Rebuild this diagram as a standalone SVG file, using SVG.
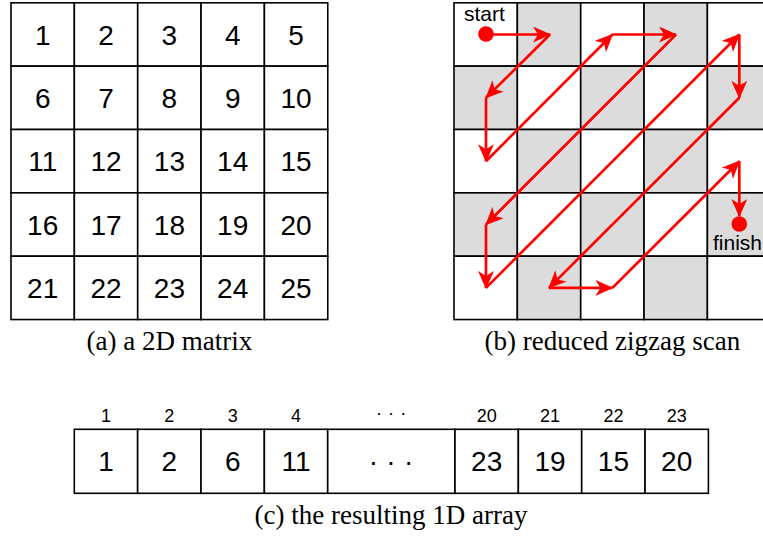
<svg xmlns="http://www.w3.org/2000/svg" width="763" height="536" viewBox="0 0 763 536">
<defs>
<style>
.cell{fill:#fff;stroke:#000;stroke-width:1.6}
.g{fill:#dcdcdc;stroke:#000;stroke-width:1.6}
.num{font-family:"Liberation Sans",Arial,sans-serif;font-size:28px;fill:#000;text-anchor:middle}
.idx{font-family:"Liberation Sans",Arial,sans-serif;font-size:18px;fill:#000;text-anchor:middle}
.lbl{font-family:"Liberation Sans",Arial,sans-serif;font-size:21px;fill:#000}
.cap{font-family:"Liberation Serif","Times New Roman",serif;font-size:27px;fill:#000;text-anchor:middle}
.arr{stroke:#ff0000;stroke-width:2.7;fill:none;marker-end:url(#ah)}
</style>
<marker id="ah" viewBox="0 0 18 16" refX="17" refY="8" markerWidth="18" markerHeight="16" markerUnits="userSpaceOnUse" orient="auto">
<path d="M0,0 L18,8 L0,16 L5,8 Z" fill="#ff0000"/>
</marker>
</defs>
<rect width="763" height="536" fill="#fff"/>

<g id="matrix">
<rect class="cell" x="11" y="2.8" width="63.35" height="63.35"/>
<rect class="cell" x="74.35" y="2.8" width="63.35" height="63.35"/>
<rect class="cell" x="137.7" y="2.8" width="63.35" height="63.35"/>
<rect class="cell" x="201.05" y="2.8" width="63.35" height="63.35"/>
<rect class="cell" x="264.4" y="2.8" width="63.35" height="63.35"/>
<rect class="cell" x="11" y="66.15" width="63.35" height="63.35"/>
<rect class="cell" x="74.35" y="66.15" width="63.35" height="63.35"/>
<rect class="cell" x="137.7" y="66.15" width="63.35" height="63.35"/>
<rect class="cell" x="201.05" y="66.15" width="63.35" height="63.35"/>
<rect class="cell" x="264.4" y="66.15" width="63.35" height="63.35"/>
<rect class="cell" x="11" y="129.5" width="63.35" height="63.35"/>
<rect class="cell" x="74.35" y="129.5" width="63.35" height="63.35"/>
<rect class="cell" x="137.7" y="129.5" width="63.35" height="63.35"/>
<rect class="cell" x="201.05" y="129.5" width="63.35" height="63.35"/>
<rect class="cell" x="264.4" y="129.5" width="63.35" height="63.35"/>
<rect class="cell" x="11" y="192.85" width="63.35" height="63.35"/>
<rect class="cell" x="74.35" y="192.85" width="63.35" height="63.35"/>
<rect class="cell" x="137.7" y="192.85" width="63.35" height="63.35"/>
<rect class="cell" x="201.05" y="192.85" width="63.35" height="63.35"/>
<rect class="cell" x="264.4" y="192.85" width="63.35" height="63.35"/>
<rect class="cell" x="11" y="256.2" width="63.35" height="63.35"/>
<rect class="cell" x="74.35" y="256.2" width="63.35" height="63.35"/>
<rect class="cell" x="137.7" y="256.2" width="63.35" height="63.35"/>
<rect class="cell" x="201.05" y="256.2" width="63.35" height="63.35"/>
<rect class="cell" x="264.4" y="256.2" width="63.35" height="63.35"/>
<text class="num" x="42.7" y="44.5">1</text>
<text class="num" x="106" y="44.5">2</text>
<text class="num" x="169.4" y="44.5">3</text>
<text class="num" x="232.7" y="44.5">4</text>
<text class="num" x="296.1" y="44.5">5</text>
<text class="num" x="42.7" y="107.8">6</text>
<text class="num" x="106" y="107.8">7</text>
<text class="num" x="169.4" y="107.8">8</text>
<text class="num" x="232.7" y="107.8">9</text>
<text class="num" x="296.1" y="107.8">10</text>
<text class="num" x="42.7" y="171.2">11</text>
<text class="num" x="106" y="171.2">12</text>
<text class="num" x="169.4" y="171.2">13</text>
<text class="num" x="232.7" y="171.2">14</text>
<text class="num" x="296.1" y="171.2">15</text>
<text class="num" x="42.7" y="234.5">16</text>
<text class="num" x="106" y="234.5">17</text>
<text class="num" x="169.4" y="234.5">18</text>
<text class="num" x="232.7" y="234.5">19</text>
<text class="num" x="296.1" y="234.5">20</text>
<text class="num" x="42.7" y="297.9">21</text>
<text class="num" x="106" y="297.9">22</text>
<text class="num" x="169.4" y="297.9">23</text>
<text class="num" x="232.7" y="297.9">24</text>
<text class="num" x="296.1" y="297.9">25</text>
<text class="cap" x="169.4" y="349.5">(a) a 2D matrix</text>
</g>

<g id="scan-grid">
<rect class="cell" x="454" y="2.8" width="63.35" height="63.35"/>
<rect class="g" x="517.35" y="2.8" width="63.35" height="63.35"/>
<rect class="cell" x="580.7" y="2.8" width="63.35" height="63.35"/>
<rect class="g" x="644.05" y="2.8" width="63.35" height="63.35"/>
<rect class="cell" x="707.4" y="2.8" width="63.35" height="63.35"/>
<rect class="g" x="454" y="66.15" width="63.35" height="63.35"/>
<rect class="cell" x="517.35" y="66.15" width="63.35" height="63.35"/>
<rect class="g" x="580.7" y="66.15" width="63.35" height="63.35"/>
<rect class="cell" x="644.05" y="66.15" width="63.35" height="63.35"/>
<rect class="g" x="707.4" y="66.15" width="63.35" height="63.35"/>
<rect class="cell" x="454" y="129.5" width="63.35" height="63.35"/>
<rect class="g" x="517.35" y="129.5" width="63.35" height="63.35"/>
<rect class="cell" x="580.7" y="129.5" width="63.35" height="63.35"/>
<rect class="g" x="644.05" y="129.5" width="63.35" height="63.35"/>
<rect class="cell" x="707.4" y="129.5" width="63.35" height="63.35"/>
<rect class="g" x="454" y="192.85" width="63.35" height="63.35"/>
<rect class="cell" x="517.35" y="192.85" width="63.35" height="63.35"/>
<rect class="g" x="580.7" y="192.85" width="63.35" height="63.35"/>
<rect class="cell" x="644.05" y="192.85" width="63.35" height="63.35"/>
<rect class="g" x="707.4" y="192.85" width="63.35" height="63.35"/>
<rect class="cell" x="454" y="256.2" width="63.35" height="63.35"/>
<rect class="g" x="517.35" y="256.2" width="63.35" height="63.35"/>
<rect class="cell" x="580.7" y="256.2" width="63.35" height="63.35"/>
<rect class="g" x="644.05" y="256.2" width="63.35" height="63.35"/>
<rect class="cell" x="707.4" y="256.2" width="63.35" height="63.35"/>
<text class="cap" x="612.4" y="349.5">(b) reduced zigzag scan</text>
</g>

<g id="connectors">
<line class="arr" x1="486" y1="34.5" x2="550" y2="34.5"/>
<line class="arr" x1="550" y1="34.5" x2="486" y2="97.8"/>
<line class="arr" x1="486" y1="97.8" x2="486" y2="161.2"/>
<line class="arr" x1="486" y1="161.2" x2="612.4" y2="34.5"/>
<line class="arr" x1="612.4" y1="34.5" x2="676" y2="34.5"/>
<line class="arr" x1="676" y1="34.5" x2="486" y2="224.5"/>
<line class="arr" x1="486" y1="224.5" x2="486" y2="287.9"/>
<line class="arr" x1="486" y1="287.9" x2="739.3" y2="34.5"/>
<line class="arr" x1="739.3" y1="34.5" x2="739.3" y2="97.8"/>
<line class="arr" x1="739.3" y1="97.8" x2="549" y2="287.9"/>
<line class="arr" x1="549" y1="287.9" x2="612.4" y2="287.9"/>
<line class="arr" x1="612.4" y1="287.9" x2="739.3" y2="161.2"/>
<line class="arr" x1="739.3" y1="161.2" x2="739.3" y2="216"/>
</g>

<g id="start">
<circle cx="486" cy="34" r="7.8" fill="#ff0000"/>
<text class="lbl" x="464" y="21">start</text>
</g>
<g id="finish">
<circle cx="739.3" cy="224" r="7.8" fill="#ff0000"/>
<text class="lbl" x="713" y="249.5">finish</text>
</g>

<g id="array">
<rect class="cell" x="74.3" y="429.3" width="63.35" height="64"/>
<rect class="cell" x="137.65" y="429.3" width="63.35" height="64"/>
<rect class="cell" x="201" y="429.3" width="63.35" height="64"/>
<rect class="cell" x="264.35" y="429.3" width="63.35" height="64"/>
<rect class="cell" x="327.7" y="429.3" width="127.3" height="64"/>
<rect class="cell" x="455" y="429.3" width="63.35" height="64"/>
<rect class="cell" x="518.35" y="429.3" width="63.35" height="64"/>
<rect class="cell" x="581.7" y="429.3" width="63.35" height="64"/>
<rect class="cell" x="645.05" y="429.3" width="63.35" height="64"/>
<text class="num" x="106" y="471.3">1</text>
<text class="num" x="169.3" y="471.3">2</text>
<text class="num" x="232.7" y="471.3">6</text>
<text class="num" x="296" y="471.3">11</text>
<text class="num" x="373.3 391 408.7" y="471.3">···</text>
<text class="num" x="486.7" y="471.3">23</text>
<text class="num" x="550" y="471.3">19</text>
<text class="num" x="613.4" y="471.3">15</text>
<text class="num" x="676.7" y="471.3">20</text>
<text class="idx" x="106" y="421.5">1</text>
<text class="idx" x="169.3" y="421.5">2</text>
<text class="idx" x="232.7" y="421.5">3</text>
<text class="idx" x="296" y="421.5">4</text>
<text class="idx" x="379 391 403.3" y="418.5">···</text>
<text class="idx" x="486.7" y="421.5">20</text>
<text class="idx" x="550" y="421.5">21</text>
<text class="idx" x="613.4" y="421.5">22</text>
<text class="idx" x="676.7" y="421.5">23</text>
<text class="cap" x="391" y="523.5">(c) the resulting 1D array</text>
</g>
</svg>
